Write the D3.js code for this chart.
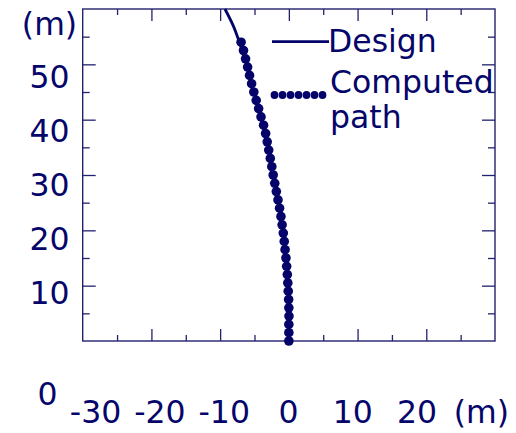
<!DOCTYPE html>
<html>
<head>
<meta charset="utf-8">
<script src="https://cdn.jsdelivr.net/npm/d3@7"></script>
<style>
  html, body { margin: 0; padding: 0; background: #ffffff; }
  svg { display: block; }
  text { font-family: "DejaVu Sans", Verdana, sans-serif; fill: #05056a; }
</style>
</head>
<body>
<svg id="chart" width="516" height="433"></svg>
<script>
// Depth along the hole (m) and horizontal offset (m) for the planned trajectory
const designDepth  = [0, 5, 10, 15, 20, 25, 30, 35, 40, 45, 50, 54, 57, 60];
const designOffset = [0, 0, -0.1, -0.4, -0.9, -1.55, -2.3, -3.05, -4.0, -5.1, -6.2, -7.2, -8.1, -9.3];

// Survey stations of the computed path
const computedDepth  = [0, 1.5, 3, 4.5, 6, 7.5, 9, 10.5, 12, 13.5, 15, 16.5, 18, 19.5,
                        21, 22.5, 24, 25.5, 27, 28.5, 30, 31.5, 33, 34.5, 36, 37.5, 39,
                        40.5, 42, 43.5, 45, 46.5, 48, 49.5, 51, 52.5, 54];
const computedOffset = [0, 0, 0, 0.02, 0, -0.03, -0.09, -0.15, -0.22, -0.32, -0.42, -0.55, -0.67, -0.81,
                        -0.98, -1.15, -1.35, -1.58, -1.82, -2.05, -2.28, -2.48, -2.7, -2.93, -3.15, -3.38, -3.68,
                        -4.05, -4.4, -4.75, -5.1, -5.42, -5.72, -6.0, -6.3, -6.6, -6.95];

// Axis tick values and labels
const xMajorTicks = [-20, -10, 0, 10, 20];
const xMinorTicks = [-25, -15, -5, 5, 15, 25];
const yMajorTicks = [10, 20, 30, 40, 50];
const yMinorTicks = [5, 15, 25, 35, 45, 55];
const xLabelValues = [-30, -20, -10, 0, 10, 20, 30];
const xLabelText   = ["-30", "-20", "-10", "0", "10", "20", "(m)"];
const yLabelValues = [10, 20, 30, 40, 50, 60];
const yLabelText   = ["10", "20", "30", "40", "50", "(m)"];
const originLabel  = "0";

const legendNames = ["Design", "Computed", "path"];

const ink = "#03036a";
const frameInk = "#22226e";

const svg = d3.select("#chart");

const plot = { left: 82.7, right: 495, top: 9, bottom: 341 };

const x = d3.scaleLinear().domain([-30, 30]).range([plot.left, plot.right]);
const y = d3.scaleLinear().domain([0, 60]).range([plot.bottom, plot.top]);

// Label placement scales (labels sit on a slightly tighter spacing than the ticks)
const xLab = d3.scaleLinear().domain([-30, 30]).range([95.6, 481.4]);
const yLab = d3.scaleLinear().domain([10, 50]).range([303.5, 88.3]);

// Frame
svg.append("rect")
  .attr("x", plot.left).attr("y", plot.top)
  .attr("width", plot.right - plot.left).attr("height", plot.bottom - plot.top)
  .attr("fill", "none").attr("stroke", frameInk).attr("stroke-width", 1.4);

// Inward ticks on all four sides
function tickAxis(axisFn, scale, values, len, transform) {
  const g = svg.append("g").attr("transform", transform)
    .call(axisFn(scale).tickValues(values).tickSize(-len).tickFormat(""));
  g.select(".domain").remove();
  g.selectAll(".tick line").attr("stroke", frameInk).attr("stroke-width", 1.3);
}
tickAxis(d3.axisBottom, x, xMajorTicks, 12, `translate(0,${plot.bottom})`);
tickAxis(d3.axisBottom, x, xMinorTicks, 6, `translate(0,${plot.bottom})`);
tickAxis(d3.axisTop, x, xMajorTicks, 12, `translate(0,${plot.top})`);
tickAxis(d3.axisTop, x, xMinorTicks, 6, `translate(0,${plot.top})`);
tickAxis(d3.axisLeft, y, yMajorTicks, 13, `translate(${plot.left},0)`);
tickAxis(d3.axisLeft, y, yMinorTicks, 7, `translate(${plot.left},0)`);
tickAxis(d3.axisRight, y, yMajorTicks, 13, `translate(${plot.right},0)`);
tickAxis(d3.axisRight, y, yMinorTicks, 7, `translate(${plot.right},0)`);

// Tick labels
const fontSize = 31.5;
svg.append("g").selectAll("text").data(xLabelValues).join("text")
  .attr("x", d => xLab(d)).attr("y", 423)
  .attr("text-anchor", "middle").attr("font-size", fontSize)
  .text((d, i) => xLabelText[i]);

svg.append("g").selectAll("text").data(yLabelValues).join("text")
  .attr("x", 49.5).attr("y", d => yLab(d))
  .attr("text-anchor", "middle").attr("font-size", fontSize)
  .text((d, i) => yLabelText[i]);

svg.append("text").attr("x", 47.5).attr("y", 405)
  .attr("text-anchor", "middle").attr("font-size", fontSize).text(originLabel);

// Design trajectory
const design = designDepth.map((d, i) => ({ depth: d, off: designOffset[i] }));
const computed = computedDepth.map((d, i) => ({ depth: d, off: computedOffset[i] }));

svg.append("path")
  .datum(design)
  .attr("fill", "none").attr("stroke", ink).attr("stroke-width", 2.8)
  .attr("d", d3.line().x(d => x(d.off)).y(d => y(d.depth)).curve(d3.curveMonotoneY));

// Computed stations
svg.append("g").selectAll("circle").data(computed).join("circle")
  .attr("cx", d => x(d.off)).attr("cy", d => y(d.depth))
  .attr("r", 4.8).attr("fill", ink);

// Legend
const legend = svg.append("g");
legend.append("line")
  .attr("x1", 272).attr("x2", 329).attr("y1", 41.7).attr("y2", 41.7)
  .attr("stroke", ink).attr("stroke-width", 2.8);
legend.append("g").selectAll("circle").data(d3.range(7)).join("circle")
  .attr("cx", i => 274.5 + i * 8).attr("cy", 95).attr("r", 3.9).attr("fill", ink);
legend.append("text").attr("x", 328).attr("y", 52).attr("font-size", fontSize).text(legendNames[0]);
legend.append("text").attr("x", 330).attr("y", 93).attr("font-size", fontSize).text(legendNames[1]);
legend.append("text").attr("x", 330).attr("y", 128).attr("font-size", fontSize).text(legendNames[2]);
</script>
</body>
</html>
